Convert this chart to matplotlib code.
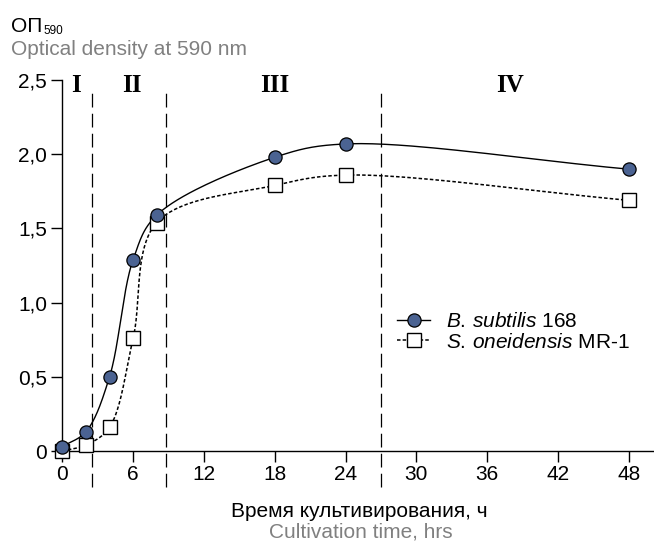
import numpy as np
import matplotlib
matplotlib.use("Agg")
import matplotlib.pyplot as plt

plt.rcParams['font.family'] = ['Liberation Sans', 'DejaVu Sans']
plt.rcParams['mathtext.fontset'] = 'custom'
plt.rcParams['mathtext.rm'] = 'Liberation Sans'
plt.rcParams['mathtext.it'] = 'Liberation Sans:italic'

# data
hours = [0, 2, 4, 6, 8, 18, 24, 48]
b_subtilis = [0.03, 0.13, 0.50, 1.29, 1.59, 1.98, 2.07, 1.90]
s_oneidensis = [0.0, 0.04, 0.16, 0.76, 1.54, 1.79, 1.86, 1.69]
phase_bounds = [2.5, 8.75, 27]
phase_names = ['I', 'II', 'III', 'IV']
phase_pos = [1.15, 5.9, 18.0, 37.9]
yticks = [0, 0.5, 1.0, 1.5, 2.0, 2.5]
ytick_labels = ['0', '0,5', '1,0', '1,5', '2,0', '2,5']
xticks = [0, 6, 12, 18, 24, 30, 36, 42, 48]

FS = 15


def smooth(x, y, n=40, sx=11.8, sy=148.4):
    # centripetal Catmull-Rom through the points, done in pixel-like units
    p = np.column_stack([np.asarray(x) * sx, np.asarray(y) * sy]).astype(float)
    p = np.vstack([2 * p[0] - p[1], p, 2 * p[-1] - p[-2]])
    t = np.linspace(0, 1, n)[1:, None]
    out = [p[1]]
    for i in range(1, len(p) - 2):
        p0, p1, p2, p3 = p[i - 1], p[i], p[i + 1], p[i + 2]
        d01 = np.linalg.norm(p1 - p0) ** 0.5
        d12 = np.linalg.norm(p2 - p1) ** 0.5
        d23 = np.linalg.norm(p3 - p2) ** 0.5
        m1 = (p1 - p0) / d01 - (p2 - p0) / (d01 + d12) + (p2 - p1) / d12
        m2 = (p2 - p1) / d12 - (p3 - p1) / (d12 + d23) + (p3 - p2) / d23
        c1 = p1 + m1 * d12 / 3
        c2 = p2 - m2 * d12 / 3
        seg = ((1 - t) ** 3 * p1 + 3 * (1 - t) ** 2 * t * c1
               + 3 * (1 - t) * t ** 2 * c2 + t ** 3 * p2)
        out.extend(seg)
    out = np.array(out)
    return out[:, 0] / sx, out[:, 1] / sy


fig = plt.figure(figsize=(6.54, 5.43), dpi=100)
ax = fig.add_axes([0.0953, 0.1694, 0.903, 0.683])
ax.set_xlim(0, 50.05)
ax.set_ylim(0, 2.5)

for xb in phase_bounds:
    ax.plot([xb, xb], [-0.24, 2.445], color='black', lw=0.9,
            dashes=(11, 5), clip_on=False, zorder=1)

for xp, name in zip(phase_pos, phase_names):
    ax.text(xp, 2.42, name, ha='center', va='baseline', fontsize=18,
            fontweight='bold', family='Liberation Serif')

cx, cy = smooth(hours, b_subtilis)
ax.plot(cx, cy, color='black', lw=1.0, zorder=2, clip_on=False)
cx, cy = smooth(hours, s_oneidensis)
ax.plot(cx, cy, color='black', lw=1.1, dashes=(2.3, 1.4), zorder=2, clip_on=False)

ax.plot(hours, s_oneidensis, ls='none', marker='s', ms=10.5, mfc='white',
        mec='black', mew=1.0, zorder=3, clip_on=False)
ax.plot(hours, b_subtilis, ls='none', marker='o', ms=9.5, mfc='#4b6392',
        mec='black', mew=0.9, zorder=4, clip_on=False)

# legend drawn with proxy handles
h1, = ax.plot([], [], color='black', lw=1.0, marker='o', ms=9.5,
              mfc='#4b6392', mec='black', mew=0.9)
h2, = ax.plot([], [], color='black', lw=1.1, dashes=(2.3, 1.4), marker='s',
              ms=10.5, mfc='white', mec='black', mew=1.0)
fig.legend([h1, h2],
           [r'$\it{B.\,subtilis}$ 168', r'$\it{S.\,oneidensis}$ MR-1'],
           loc='center left', bbox_to_anchor=(397 / 654, 1 - 332 / 543),
           frameon=False, fontsize=FS, handlelength=1.6, handletextpad=0.75,
           borderpad=0, borderaxespad=0, labelspacing=0.05)

ax.spines['top'].set_visible(False)
ax.spines['right'].set_visible(False)
for s in ['left', 'bottom']:
    ax.spines[s].set_linewidth(1.0)
ax.set_yticks(yticks)
ax.set_yticklabels(ytick_labels)
ax.set_xticks(xticks)
ax.tick_params(axis='both', direction='out', length=8, width=1.0,
               labelsize=FS)
ax.tick_params(axis='x', pad=2)
ax.tick_params(axis='y', pad=3)

fig.text(11 / 654, 1 - 32 / 543, 'ОП', fontsize=15, va='baseline')
fig.text(43 / 654, 1 - 34 / 543, '590', fontsize=8.5, va='baseline')
fig.text(11 / 654, 1 - 55 / 543, 'Optical density at 590 nm', fontsize=FS,
         color='#808080', va='baseline')
fig.text(359 / 654, 1 - 517 / 543, 'Время культивирования, ч', fontsize=FS,
         ha='center', va='baseline')
fig.text(361 / 654, 1 - 538 / 543, 'Cultivation time, hrs', fontsize=FS,
         ha='center', va='baseline', color='#808080')

fig.savefig('out.png', dpi=100)
